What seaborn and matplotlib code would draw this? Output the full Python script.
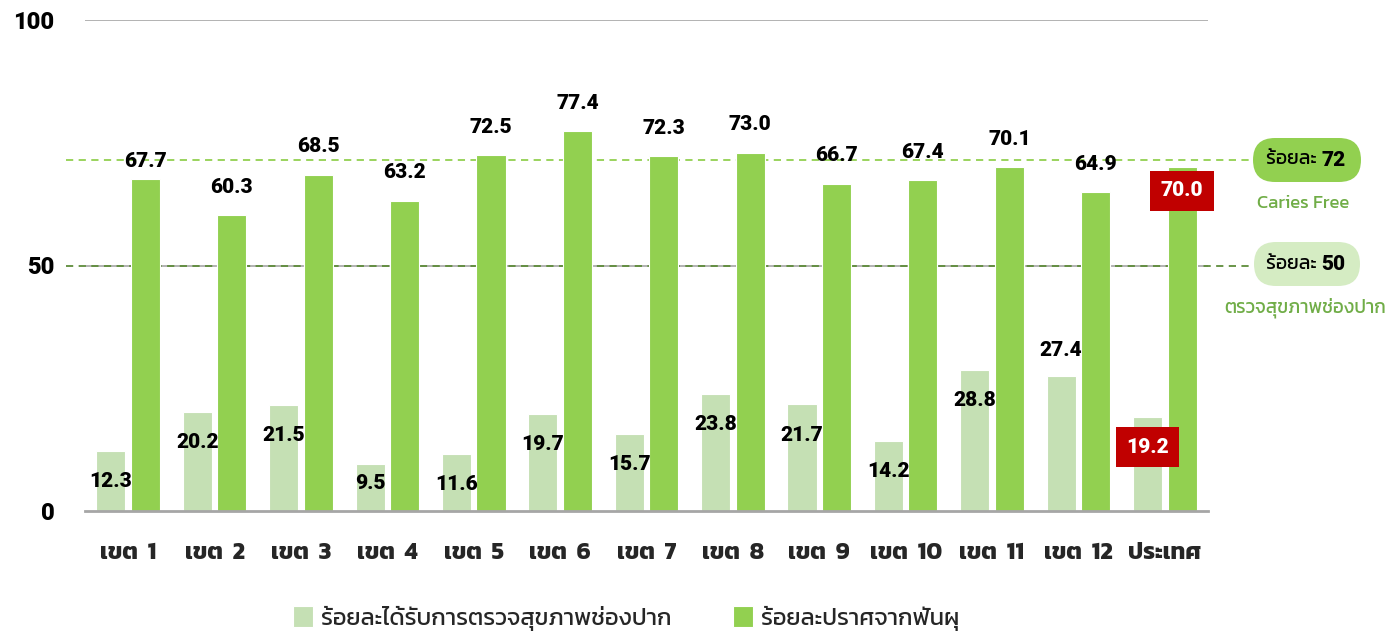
import matplotlib
matplotlib.use("Agg")
import matplotlib.pyplot as plt
import seaborn as sns
import pandas as pd
from matplotlib import font_manager
from matplotlib.patches import FancyBboxPatch

# ---------------- data ----------------
regions = ["เขต 1", "เขต 2", "เขต 3", "เขต 4", "เขต 5", "เขต 6", "เขต 7",
           "เขต 8", "เขต 9", "เขต 10", "เขต 11", "เขต 12", "ประเทศ"]
checked = [12.3, 20.2, 21.5, 9.5, 11.6, 19.7, 15.7, 23.8, 21.7, 14.2, 28.8, 27.4, 19.2]
caries_free = [67.7, 60.3, 68.5, 63.2, 72.5, 77.4, 72.3, 73.0, 66.7, 67.4, 70.1, 64.9, 70.0]
series_names = ["ร้อยละได้รับการตรวจสุขภาพช่องปาก", "ร้อยละปราศจากฟันผุ"]
target_caries = 72
target_checked = 50
yticks = [0, 50, 100]

# ---------------- font detection ----------------
thai_family = None
try:
    from fontTools.ttLib import TTFont
    cands = []
    for fe in font_manager.fontManager.ttflist:
        try:
            f = TTFont(fe.fname, fontNumber=0, lazy=True)
            cmap = f.getBestCmap() or {}
            if 0x0E23 in cmap and 0x0E49 in cmap:
                cands.append(fe.name)
            f.close()
        except Exception:
            pass
    pref = ["Kanit", "Prompt", "Sarabun", "Noto Sans Thai", "Noto Sans Thai Looped",
            "Loma", "Garuda", "Waree", "Umpush", "Norasi"]
    for p in pref:
        if p in cands:
            thai_family = p
            break
    if thai_family is None and cands:
        thai_family = cands[0]
except Exception:
    pass

num_family, num_weight = "DejaVu Sans", "bold"
for famname in ["Roboto", "Lato", "Inter", "Open Sans", "Noto Sans"]:
    ws = []
    for fe in font_manager.fontManager.ttflist:
        if fe.name == famname and fe.style == "normal":
            try:
                ws.append(int(fe.weight))
            except Exception:
                pass
    heavy = [w for w in ws if w >= 800]
    if heavy:
        num_family, num_weight = famname, max(heavy)
        break

sns.set_theme(style="white")
thai_fam = ([thai_family] if thai_family else []) + ["DejaVu Sans"]
num_fam = [num_family] + thai_fam
plt.rcParams["font.family"] = num_fam

LIGHT = "#c5e0b4"
GREEN = "#92d050"
RED = "#c00000"
TXTGREEN = "#70ad47"

fig = plt.figure(figsize=(13.86, 6.34), dpi=100)
ax = fig.add_axes([85 / 1386, 1 - 511 / 634, 1123 / 1386, 491 / 634])

df = pd.DataFrame({
    "region": regions * 2,
    "value": checked + caries_free,
    "series": [series_names[0]] * len(regions) + [series_names[1]] * len(regions),
})
sns.barplot(data=df, x="region", y="value", hue="series", palette=[LIGHT, GREEN],
            saturation=1, width=0.8, gap=0.16, ax=ax, edgecolor="white", linewidth=0.8,
            errorbar=None, zorder=3)

ax.set_xlim(-0.5, len(regions) - 0.5)
ax.set_ylim(0, 100)
ax.set_yticks(yticks)
ax.set_yticklabels([str(t) for t in yticks], fontsize=17, fontweight=num_weight,
                   color="black", family=num_fam)
ax.tick_params(axis="y", length=0, pad=22)
ax.tick_params(axis="x", length=0, pad=22)
ax.set_xticks(range(len(regions)))
ax.set_xticklabels([r.replace(" ", "  ") for r in regions], fontsize=17,
                   fontweight="bold", family=thai_fam)
ax.set_xlabel("")
ax.set_ylabel("")
for s in ["top", "right", "left"]:
    ax.spines[s].set_visible(False)
ax.spines["bottom"].set_color("#a6a6a6")
ax.spines["bottom"].set_linewidth(2)
ax.spines["bottom"].set_zorder(5)
for t in yticks[1:]:
    ax.axhline(t, color="#a6a6a6", lw=1.2, zorder=1)

# target lines
ax.axhline(target_caries - 0.5, xmin=-0.017, xmax=1.04, color=GREEN, ls=(0, (4, 3)),
           lw=1.3, clip_on=False, zorder=2)
ax.axhline(target_checked, xmin=-0.017, xmax=1.04, color="#5e8c3a", ls=(0, (4, 3)),
           lw=1.3, clip_on=False, zorder=2)

# legend
handles, labels = ax.get_legend_handles_labels()
ax.legend(handles, labels, loc="upper center", bbox_to_anchor=(0.482, -0.15), ncol=2,
          frameon=False, handlelength=0.85, handleheight=1.0, handletextpad=0.35,
          columnspacing=2.6, prop={"family": thai_fam, "size": 17})

# value labels
NUMSIZE = 15
light_bars = ax.containers[0]
green_bars = ax.containers[1]
n = len(regions)
for i, (b, v) in enumerate(zip(light_bars, checked)):
    cx = b.get_x() + b.get_width() / 2
    if i == n - 1:
        ax.annotate(f"{v:.1f}", (cx, v), xytext=(0, -22), textcoords="offset points",
                    ha="center", va="center", fontsize=NUMSIZE, fontweight=num_weight,
                    color="white", family=num_fam,
                    bbox=dict(boxstyle="square,pad=0.5", fc=RED, ec="none"), zorder=6)
        continue
    dy = -22
    if v < 10:
        dy = -14
    if i == 11:
        dy = 19
    ax.annotate(f"{v:.1f}", (cx, v), xytext=(0, dy), textcoords="offset points",
                ha="center", va="center", fontsize=NUMSIZE, fontweight=num_weight,
                color="black", family=num_fam, zorder=6)
for i, (b, v) in enumerate(zip(green_bars, caries_free)):
    cx = b.get_x() + b.get_width() / 2
    if i == n - 1:
        ax.annotate(f"{v:.1f}", (cx, v), xytext=(0, -17), textcoords="offset points",
                    ha="center", va="center", fontsize=NUMSIZE, fontweight=num_weight,
                    color="white", family=num_fam,
                    bbox=dict(boxstyle="square,pad=0.5", fc=RED, ec="none"), zorder=6)
        continue
    dy = 12 if i == 0 else 20
    ax.annotate(f"{v:.1f}", (cx, v), xytext=(0, dy), textcoords="offset points",
                ha="center", va="center", fontsize=NUMSIZE, fontweight=num_weight,
                color="black", family=num_fam, zorder=6)

# pills on the right (figure pixel coordinates -> inches)
def pill(cx_px, cy_px, w_px, h_px, fc, num):
    x0 = (cx_px - w_px / 2) / 100
    y0 = (634 - cy_px - h_px / 2) / 100
    p = FancyBboxPatch((x0, y0), w_px / 100, h_px / 100,
                       boxstyle=f"round,pad=0,rounding_size={h_px / 200}",
                       transform=fig.dpi_scale_trans, fc=fc, ec="none")
    fig.patches.append(p)
    fig.text((cx_px + 14) / 1386, 1 - cy_px / 634, "ร้อยละ ", ha="right", va="center",
             fontsize=14, family=thai_fam, color="black")
    fig.text((cx_px + 14) / 1386, 1 - cy_px / 634, str(num), ha="left", va="center",
             fontsize=15, fontweight=num_weight, family=num_fam, color="black")

pill(1307, 160, 108, 44, GREEN, target_caries)
pill(1307, 264, 106, 44, "#d5ecc3", target_checked)
fig.text(1303 / 1386, 1 - 204 / 634, "Caries Free", ha="center", va="center",
         fontsize=13.5, color=TXTGREEN, family=thai_fam)
fig.text(1305 / 1386, 1 - 308 / 634, "ตรวจสุขภาพช่องปาก", ha="center", va="center",
         fontsize=13.5, color=TXTGREEN, family=thai_fam)

fig.savefig("out.png", dpi=100)
